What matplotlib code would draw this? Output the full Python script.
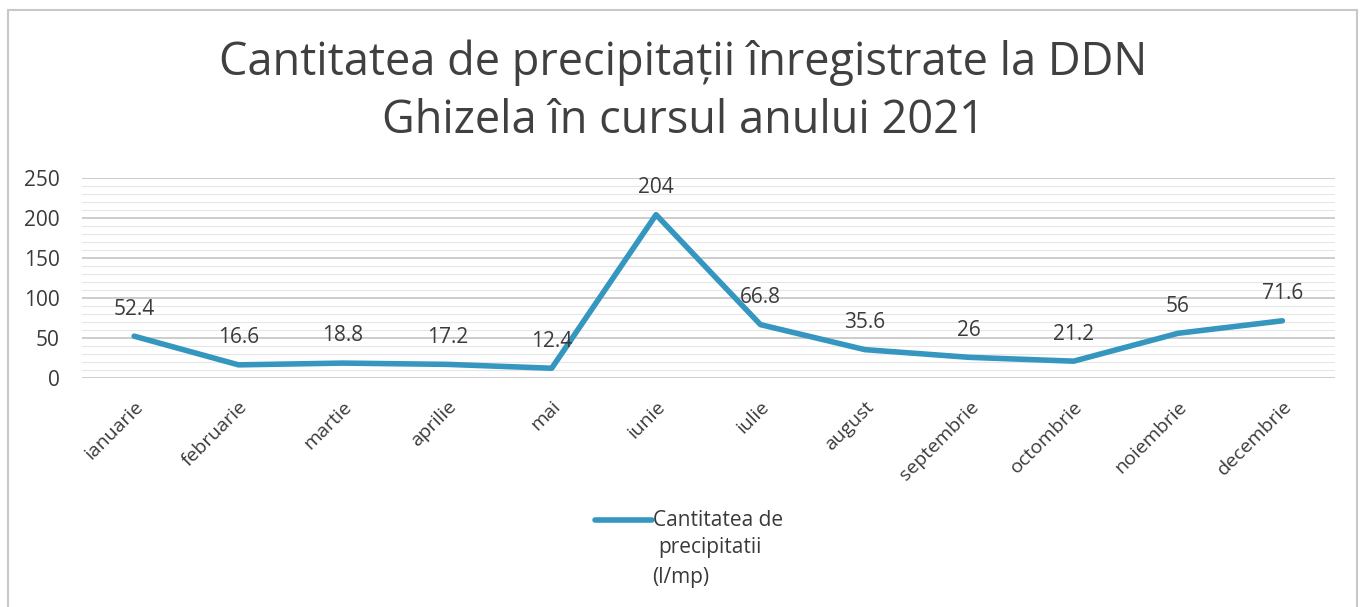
import matplotlib.pyplot as plt
from matplotlib.patches import Rectangle
from matplotlib.lines import Line2D
from matplotlib.ticker import MultipleLocator

plt.rcParams['font.family'] = ['Open Sans', 'DejaVu Sans']

months = ["ianuarie", "februarie", "martie", "aprilie", "mai", "iunie",
          "iulie", "august", "septembrie", "octombrie", "noiembrie", "decembrie"]
rain = [52.4, 16.6, 18.8, 17.2, 12.4, 204, 66.8, 35.6, 26, 21.2, 56, 71.6]
labels = ["52.4", "16.6", "18.8", "17.2", "12.4", "204", "66.8", "35.6",
          "26", "21.2", "56", "71.6"]

line_color = "#3597c0"
text_color = "#3a3a3a"
W, H = 1366, 607

fig = plt.figure(figsize=(13.66, 6.07), dpi=100)
fig.patches.append(Rectangle((8 / W, -0.01), (1357 - 8) / W, 1 - 10 / H + 0.01,
                             transform=fig.transFigure, fill=False,
                             edgecolor="#c8c8c8", linewidth=1.5))

ax = fig.add_axes([0.060, 0.377, 0.917, 0.330])
x = list(range(len(months)))
ax.plot(x, rain, color=line_color, linewidth=4, solid_capstyle="round")

for xi, v, t in zip(x, rain, labels):
    ax.annotate(t, (xi, v), xytext=(0, 12), textcoords="offset points",
                ha="center", va="bottom", fontsize=15, color=text_color)

ax.set_xlim(-0.5, len(months) - 0.5)
ax.set_ylim(0, 250)
ax.yaxis.set_major_locator(MultipleLocator(50))
ax.yaxis.set_minor_locator(MultipleLocator(10))
ax.grid(axis="y", which="major", color="#c4c4c4", linewidth=1.2)
ax.grid(axis="y", which="minor", color="#e6e6e6", linewidth=0.8)
ax.set_axisbelow(True)
for s in ax.spines.values():
    s.set_visible(False)
ax.tick_params(axis="both", which="both", length=0, colors=text_color)
ax.tick_params(axis="y", pad=16, labelsize=15)
ax.set_xticks(x)
ax.set_xticklabels(months, rotation=45, ha="right", rotation_mode="anchor")
ax.tick_params(axis="x", pad=14, labelsize=14)

fig.text(0.5, 1 - 92 / H, "Cantitatea de precipitații înregistrate la DDN\nGhizela în cursul anului 2021",
         ha="center", va="center", fontsize=32.5, color="#404040", linespacing=1.33)

# legend drawn by hand so the key sits on the first text line
fig.add_artist(Line2D([595 / W, 652 / W], [1 - 520 / H, 1 - 520 / H],
                      transform=fig.transFigure, color=line_color, linewidth=4,
                      solid_capstyle="round"))
fig.text(653 / W, 1 - 520 / H, "Cantitatea de", ha="left", va="center",
         fontsize=15, color=text_color)
fig.text(658 / W, 1 - 548 / H, "precipitatii", ha="left", va="center",
         fontsize=15, color=text_color)
fig.text(652 / W, 1 - 577 / H, "(l/mp)", ha="left", va="center",
         fontsize=15, color=text_color)

fig.savefig("out.png", dpi=100)
